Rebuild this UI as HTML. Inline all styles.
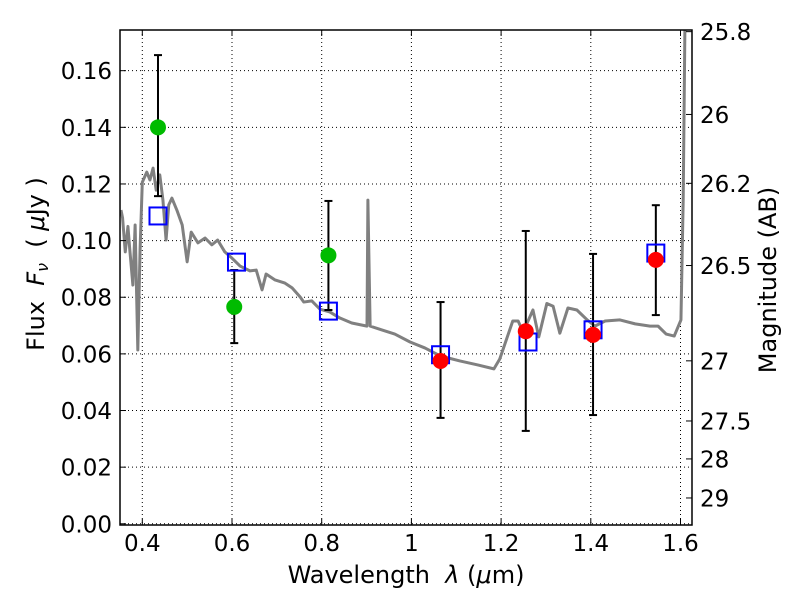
<!DOCTYPE html>
<html><head><meta charset="utf-8"><style>
body{margin:0;background:#fff}
svg text{font-family:"DejaVu Sans","Liberation Sans",sans-serif;fill:#000}
</style></head><body>
<svg id="c" width="800" height="600" xmlns="http://www.w3.org/2000/svg"></svg>
<script>
const specWave=[0.3525,0.356,0.362,0.368,0.372,0.379,0.384,0.390,0.395,0.400,0.410,0.417,0.424,0.431,0.439,0.446,0.453,0.459,0.466,0.477,0.489,0.500,0.509,0.524,0.540,0.555,0.568,0.584,0.600,0.618,0.640,0.654,0.667,0.676,0.696,0.718,0.734,0.752,0.760,0.778,0.796,0.818,0.840,0.867,0.901,0.903,0.908,0.935,0.963,0.997,1.030,1.064,1.108,1.148,1.184,1.197,1.226,1.238,1.249,1.271,1.284,1.302,1.316,1.331,1.349,1.369,1.392,1.409,1.432,1.465,1.499,1.532,1.550,1.568,1.586,1.601,1.606,1.610];
const specFlux=[0.1108,0.108,0.096,0.105,0.097,0.0843,0.1055,0.0614,0.0967,0.1206,0.1242,0.1214,0.1256,0.1178,0.1232,0.1143,0.1002,0.1126,0.1150,0.1108,0.1055,0.0925,0.1030,0.0992,0.1009,0.0985,0.1002,0.0960,0.0938,0.0910,0.0893,0.0896,0.0826,0.0882,0.0861,0.0850,0.0833,0.0801,0.0783,0.0787,0.0758,0.0748,0.0727,0.0709,0.0698,0.1143,0.0698,0.0684,0.0670,0.0642,0.0621,0.0593,0.0575,0.0561,0.0547,0.0582,0.0716,0.0716,0.0677,0.0755,0.0660,0.0778,0.0768,0.0673,0.0762,0.0755,0.0720,0.0698,0.0716,0.0720,0.0706,0.0698,0.0698,0.0670,0.0663,0.0720,0.1143,0.178];
const greenWave=[0.435,0.605,0.815];
const greenFlux=[0.140,0.0766,0.0948];
const greenHi=[0.1655,0.0896,0.114];
const greenLo=[0.1157,0.0638,0.0755];
const redWave=[1.065,1.255,1.405,1.545];
const redFlux=[0.0575,0.068,0.0667,0.0932];
const redHi=[0.0783,0.1034,0.0953,0.1125];
const redLo=[0.0374,0.0328,0.0384,0.0737];
const modelWave=[0.435,0.61,0.815,1.065,1.26,1.405,1.545];
const modelFlux=[0.1087,0.0924,0.0751,0.0597,0.0642,0.0685,0.0956];
const xTicks=[0.4,0.6,0.8,1.0,1.2,1.4,1.6];
const xTickLabels=["0.4","0.6","0.8","1","1.2","1.4","1.6"];
const yTicks=[0,0.02,0.04,0.06,0.08,0.10,0.12,0.14,0.16];
const yTickLabels=["0.00","0.02","0.04","0.06","0.08","0.10","0.12","0.14","0.16"];
const magTicks=[25.8,26,26.2,26.5,27,27.5,28,29];
const magTickLabels=["25.8","26","26.2","26.5","27","27.5","28","29"];

const L=120,R=692,T=30,B=525;
const X=v=>142.3+(v-0.4)*448.5;
const Y=v=>523.8-v*2832;
const magToFlux=m=>Math.pow(10,(23.9-m)/2.5);
const svg=document.getElementById('c');
const NS="http://www.w3.org/2000/svg";
function mk(tag,attrs,parent){const e=document.createElementNS(NS,tag);for(const k in attrs)e.setAttribute(k,attrs[k]);(parent||svg).appendChild(e);return e;}

const defs=mk('defs',{});
const cp=mk('clipPath',{id:'clip'},defs);
mk('rect',{x:L,y:T,width:R-L,height:B-T},cp);

const grid=mk('g',{});


xTicks.forEach(v=>{mk('line',{x1:X(v),x2:X(v),y1:T,y2:B,stroke:'#000','stroke-width':1,'stroke-dasharray':'1,3'},grid);});
yTicks.forEach(v=>{mk('line',{x1:L,x2:R,y1:Y(v),y2:Y(v),stroke:'#000','stroke-width':1,'stroke-dasharray':'1,3'},grid);});

const sp=mk('polyline',{points:specWave.map((w,i)=>X(w)+','+Y(specFlux[i])).join(' '),fill:'none',stroke:'#808080','stroke-width':3,'clip-path':'url(#clip)','stroke-linejoin':'round'});



function errs(wave,hi,lo,name){
  wave.forEach((w,i)=>{
    const g=mk('g',{stroke:'#000','stroke-width':2});
    
    
    mk('line',{x1:X(w),x2:X(w),y1:Y(hi[i]),y2:Y(lo[i])},g);
    mk('line',{x1:X(w)-4,x2:X(w)+4,y1:Y(hi[i]),y2:Y(hi[i])},g);
    mk('line',{x1:X(w)-4,x2:X(w)+4,y1:Y(lo[i]),y2:Y(lo[i])},g);
  });
}
errs(greenWave,greenHi,greenLo,'green-errorbar');
errs(redWave,redHi,redLo,'red-errorbar');
modelWave.forEach((w,i)=>{
  const r=mk('rect',{x:X(w)-8.5,y:Y(modelFlux[i])-8.5,width:17,height:17,fill:'none',stroke:'#0000ff','stroke-width':2});
  
  
});
greenWave.forEach((w,i)=>{
  const c=mk('circle',{cx:X(w),cy:Y(greenFlux[i]),r:8,fill:'#00bb00'});
  
  
});
redWave.forEach((w,i)=>{
  const c=mk('circle',{cx:X(w),cy:Y(redFlux[i]),r:8,fill:'#ff0000'});
  
  
});

const fr=mk('rect',{x:L,y:T,width:R-L,height:B-T,fill:'none',stroke:'#000','stroke-width':1.5});



xTicks.forEach((v,i)=>{
  mk('line',{x1:X(v),x2:X(v),y1:B,y2:B-6,stroke:'#000'});
  mk('line',{x1:X(v),x2:X(v),y1:T,y2:T+6,stroke:'#000'});
  const t=mk('text',{x:X(v),y:B+26,'text-anchor':'middle','font-size':23});
  t.textContent=xTickLabels[i];
  
  
});
yTicks.forEach((v,i)=>{
  mk('line',{x1:L,x2:L+6,y1:Y(v),y2:Y(v),stroke:'#000'});
  const t=mk('text',{x:L-8,y:Y(v)+8.5,'text-anchor':'end','font-size':23});
  t.textContent=yTickLabels[i];
  
  
});
magTicks.forEach((m,i)=>{
  const y=Y(magToFlux(m));
  mk('line',{x1:R,x2:R-6,y1:y,y2:y,stroke:'#000'});
  const t=mk('text',{x:R+8,y:y+8.5,'font-size':23});
  t.textContent=magTickLabels[i];
  
  
});
</script>
<svg width="800" height="600" style="position:absolute;left:0;top:0" xmlns="http://www.w3.org/2000/svg">
<text x="406" y="583" text-anchor="middle" font-size="24" font-family="DejaVu Sans, sans-serif">Wavelength&#160;&#160;<tspan font-style="italic">λ</tspan> (<tspan font-style="italic">μ</tspan>m)</text>
<text transform="translate(44,264) rotate(-90)" text-anchor="middle" font-size="24" font-family="DejaVu Sans, sans-serif">Flux&#160;&#160;<tspan font-style="italic">F</tspan><tspan font-style="italic" font-size="16" dy="4">ν</tspan><tspan dy="-4">&#160;&#160;(&#160;</tspan><tspan font-style="italic">μ</tspan>Jy )</text>
<text transform="translate(776,280) rotate(-90)" text-anchor="middle" font-size="24" font-family="DejaVu Sans, sans-serif">Magnitude (AB)</text>
</svg>
</body></html>
